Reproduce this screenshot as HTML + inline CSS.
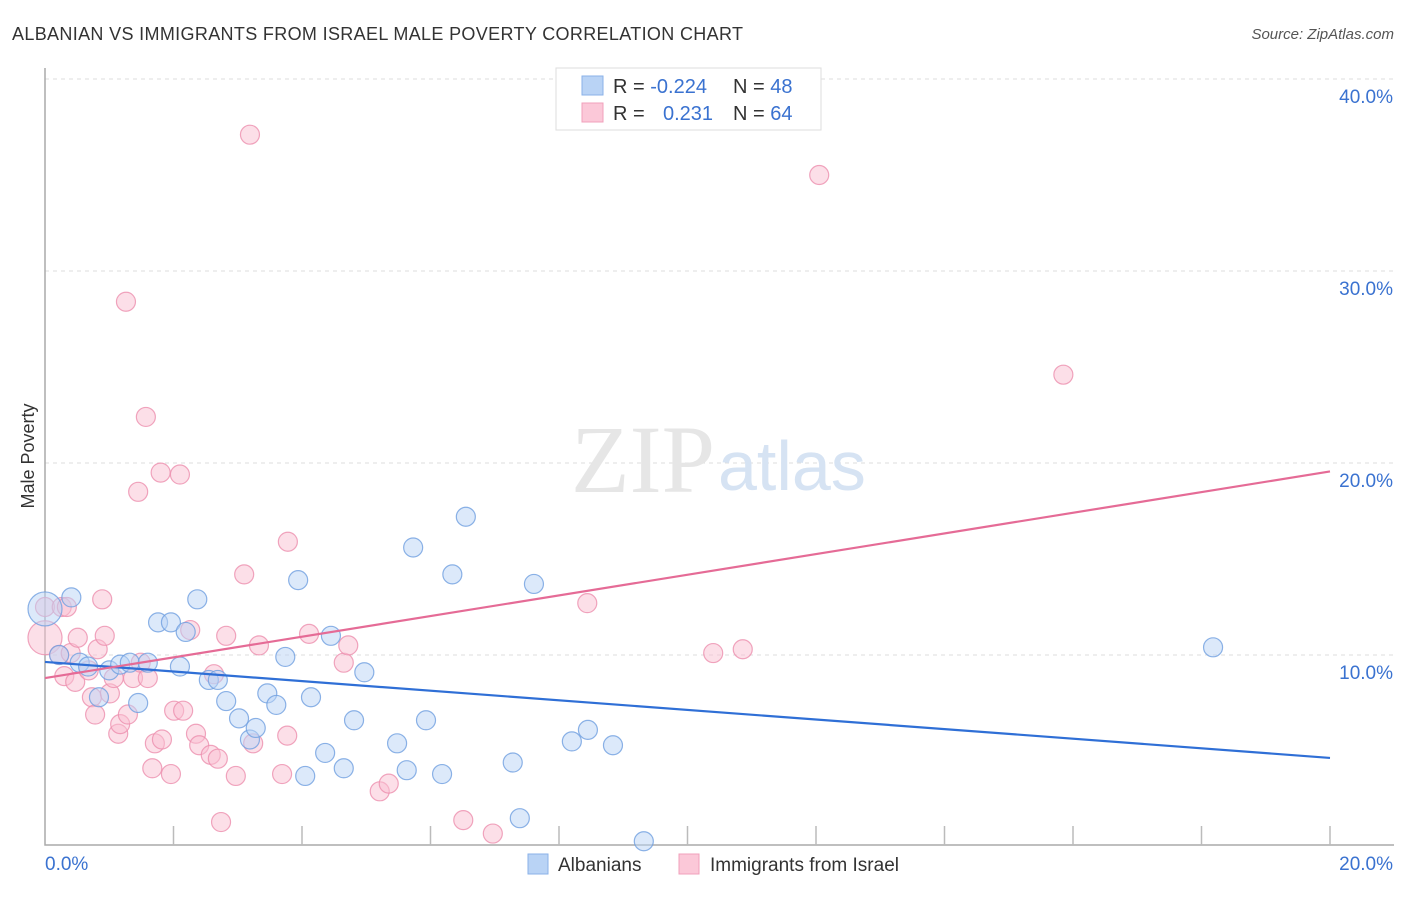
<!DOCTYPE html>
<html><head><meta charset="utf-8">
<style>
body{margin:0;background:#fff;font-family:"Liberation Sans",sans-serif;}
svg text{font-family:"Liberation Sans",sans-serif;}
</style></head>
<body>
<svg id="chart" width="1406" height="892">
<text x="12" y="40" font-size="18" fill="#333" textLength="731">ALBANIAN VS IMMIGRANTS FROM ISRAEL MALE POVERTY CORRELATION CHART</text>
<text x="1394" y="39" font-size="15" fill="#555" font-style="italic" text-anchor="end">Source: ZipAtlas.com</text>
<text transform="translate(34,456) rotate(-90)" font-size="18" fill="#333" text-anchor="middle">Male Poverty</text>
<g id="grid"></g>
<text x="715" y="492" font-size="96" fill="#e6e6e6" text-anchor="end" style="font-family:'Liberation Serif',serif">ZIP</text>
<text x="718" y="490" font-size="70" fill="#d6e3f3">atlas</text>
<g id="marks"></g>
<g>
<rect x="556" y="68" width="265" height="62" fill="#fff" stroke="#ddd"/>
<rect x="582" y="76" width="21" height="19" fill="#b9d3f5" stroke="#8ab2e8"/>
<rect x="582" y="103" width="21" height="19" fill="#fbc8d8" stroke="#f0a0bb"/>
<text x="613" y="93" font-size="20" fill="#333">R = <tspan fill="#3a72d0">-0.224</tspan><tspan x="733">N = </tspan><tspan fill="#3a72d0">48</tspan></text>
<text x="613" y="120" font-size="20" fill="#333">R = <tspan x="663" fill="#3a72d0">0.231</tspan><tspan x="733">N = </tspan><tspan fill="#3a72d0">64</tspan></text>
</g>
<g>
<rect x="528" y="854" width="20" height="20" fill="#b9d3f5" stroke="#8ab2e8"/>
<text x="558" y="871" font-size="19" fill="#333">Albanians</text>
<rect x="679" y="854" width="20" height="20" fill="#fbc8d8" stroke="#f0a0bb"/>
<text x="710" y="871" font-size="19" fill="#333">Immigrants from Israel</text>
</g>
</svg>
<script>
const yTicks=[10,20,30,40];
const yTickLabels=["10.0%","20.0%","30.0%","40.0%"];
const xTickLabels=["0.0%","20.0%"];
const blueX=[0.0,0.41,0.22,0.54,0.67,0.84,1.00,1.17,1.32,1.45,1.60,1.76,1.96,2.10,2.19,2.37,2.55,2.69,2.82,3.02,3.19,3.28,3.46,3.60,3.74,3.94,4.05,4.14,4.36,4.45,4.65,4.81,4.97,5.48,5.63,5.73,5.93,6.18,6.34,6.55,7.28,7.39,7.61,8.20,8.45,8.84,9.32,18.18];
const blueY=[12.4,13.0,10.0,9.6,9.4,7.8,9.2,9.5,9.6,7.5,9.6,11.7,11.7,9.4,11.2,12.9,8.7,8.7,7.6,6.7,5.6,6.2,8.0,7.4,9.9,13.9,3.7,7.8,4.9,11.0,4.1,6.6,9.1,5.4,4.0,15.6,6.6,3.8,14.2,17.2,4.4,1.5,13.7,5.5,6.1,5.3,0.3,10.4];
const pinkX=[0.0,0.0,0.26,0.34,0.22,0.40,0.30,0.47,0.51,0.68,0.73,0.78,0.82,0.89,0.93,1.01,1.07,1.14,1.17,1.26,1.29,1.37,1.45,1.49,1.57,1.60,1.67,1.71,1.80,1.82,1.96,2.01,2.10,2.15,2.26,2.35,2.40,2.58,2.63,2.69,2.74,2.82,2.97,3.10,3.19,3.24,3.33,3.69,3.77,3.78,4.11,4.65,4.72,5.21,5.35,6.51,6.97,8.44,10.40,10.86,12.05,15.85];
const pinkY=[10.9,12.5,12.5,12.5,10.0,10.1,8.9,8.6,10.9,9.2,7.8,6.9,10.3,12.9,11.0,8.0,8.8,5.9,6.4,28.4,6.9,8.8,18.5,9.6,22.4,8.8,4.1,5.4,19.5,5.6,3.8,7.1,19.4,7.1,11.3,5.9,5.3,4.8,9.0,4.6,1.3,11.0,3.7,14.2,37.1,5.4,10.5,3.8,5.8,15.9,11.1,9.6,10.5,2.9,3.3,1.4,0.7,12.7,10.1,10.3,35.0,24.6];
const blueLine=[9.64,4.64];
const pinkLine=[8.8,19.56];
const X0=45,X1=1330,Y0=847,PY=19.2;
const xs=v=>X0+(X1-X0)*v/20, ys=v=>Y0-PY*v;
const NS="http://www.w3.org/2000/svg";
const grid=document.getElementById('grid'), marks=document.getElementById('marks');
function mk(tag,at,parent){const e=document.createElementNS(NS,tag);for(const k in at)e.setAttribute(k,at[k]);parent.appendChild(e);return e;}
yTicks.forEach((t,i)=>{
 const l=mk('line',{x1:X0,x2:1394,y1:ys(t),y2:ys(t),stroke:'#ddd','stroke-dasharray':'4,4'},grid);
 
 
 const tx=mk('text',{x:1393,y:ys(t)+24,'font-size':19,fill:'#3a72d0','text-anchor':'end'},grid);
 tx.textContent=yTickLabels[i];
 
 
});
const ax=mk('path',{d:`M${X0},68 V845 H1394`,fill:'none',stroke:'#aaa','stroke-width':1.5},grid);


for(let i=1;i<=10;i++){
 const t=mk('line',{x1:xs(i*2),x2:xs(i*2),y1:826,y2:845,stroke:'#bbb','stroke-width':1.5},grid);
 
 
}
[[45,'start',0],[1393,'end',1]].forEach(([x,a,i])=>{
 const t=mk('text',{x:x,y:870,'font-size':19,fill:'#3a72d0','text-anchor':a},grid);
 t.textContent=xTickLabels[i];
 
 
});
function pts(X,Y,fill,stroke,name){
 X.forEach((x,i)=>{
  const c=mk('circle',{cx:xs(x),cy:ys(Y[i]),r:i===0?17:9.5,fill:fill,'fill-opacity':0.5,stroke:stroke,'stroke-opacity':0.8,'stroke-width':1.2},marks);
  
  
 });
}
pts(pinkX,pinkY,'#f9bfd2','#ec8fae','israel-point');
pts(blueX,blueY,'#b9d3f5','#6f9fe0','albanian-point');
const bl=mk('line',{x1:xs(0),y1:ys(blueLine[0]),x2:xs(20),y2:ys(blueLine[1]),stroke:'#2f6fd6','stroke-width':2.2},marks);


const pl=mk('line',{x1:xs(0),y1:ys(pinkLine[0]),x2:xs(20),y2:ys(pinkLine[1]),stroke:'#e56b96','stroke-width':2.2},marks);


</script>
</body></html>
